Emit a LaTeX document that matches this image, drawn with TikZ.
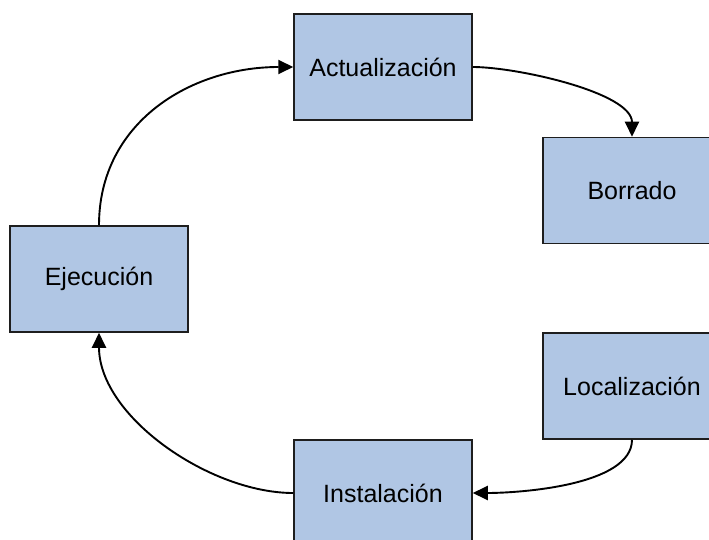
\documentclass[tikz,border=0pt]{standalone}
\usepackage{fontspec}
\setmainfont{Liberation Sans}
\usetikzlibrary{arrows.meta}
\definecolor{boxfill}{RGB}{176,198,228}
\definecolor{boxline}{RGB}{30,30,30}
\tikzset{
  stage/.style={draw=boxline, fill=boxfill, line width=1.5pt,
    minimum width=178pt, minimum height=106pt, inner sep=0pt,
    font=\fontsize{25}{30}\selectfont},
  flow/.style={draw=black, line width=1.9pt,
    -{Triangle[length=15pt,width=14pt]}}
}
\begin{document}
\begin{tikzpicture}[x=1pt,y=-1pt]
  \useasboundingbox (0,0) rectangle (709,540);
  \clip (0,0) rectangle (709,540);
  \node[stage] (act) at (383,67) {Actualización};
  \node[stage] (bor) at (632,190.5) {Borrado};
  \node[stage] (eje) at (99,279) {Ejecución};
  \node[stage] (loc) at (632,386) {Localización};
  \node[stage] (ins) at (383,493) {Instalación};

  \draw[flow] (eje.north) to[out=90,in=180,looseness=1.05] (act.west);
  \draw[flow] (act.east) to[out=0,in=90,looseness=0.65] (bor.north);
  \draw[flow] (loc.south) to[out=-90,in=0,looseness=0.7] (ins.east);
  \draw[flow] (ins.west) to[out=180,in=-90,looseness=0.85] (eje.south);
\end{tikzpicture}
\end{document}
